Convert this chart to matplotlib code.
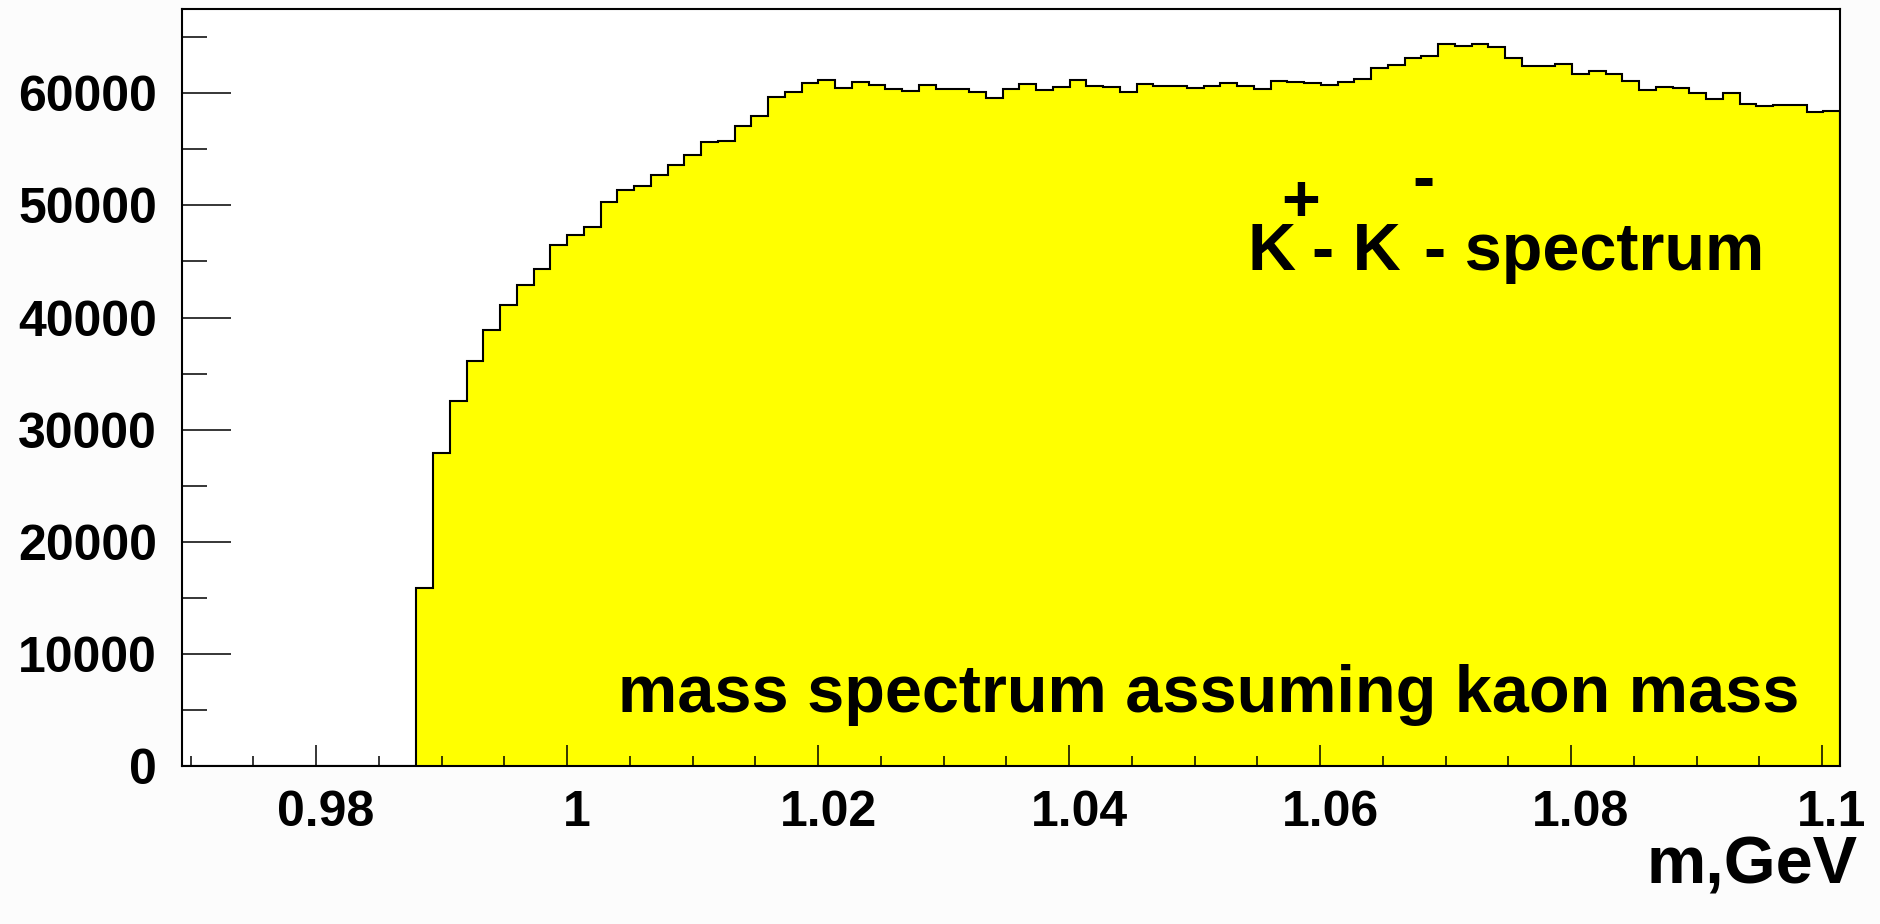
import matplotlib
matplotlib.use("Agg")
import matplotlib.pyplot as plt
import matplotlib.transforms as mtransforms
import numpy as np
from matplotlib.ticker import MultipleLocator

plt.rcParams['font.family'] = ['Liberation Sans', 'DejaVu Sans']
plt.rcParams['font.weight'] = 'bold'

# histogram range and binning (99 bins, first 14 empty below the K+K- threshold)
x_lo, x_hi = 0.96932, 1.10143
n_empty = 14
counts = [15850, 27890, 32560, 36130, 38890, 41150, 42880, 44360, 46470, 47370,
          48110, 50310, 51410, 51740, 52750, 53610, 54530, 55690, 55780, 57120,
          57980, 59700, 60120, 60900, 61190, 60500, 60980, 60740, 60420, 60240,
          60740, 60420, 60420, 60150, 59610, 60360, 60810, 60300, 60540, 61160,
          60660, 60540, 60150, 60810, 60690, 60690, 60450, 60630, 60920, 60630,
          60360, 61070, 61010, 60920, 60740, 61010, 61280, 62290, 62540, 63170,
          63290, 64360, 64240, 64400, 64100, 63170, 62480, 62480, 62630, 61740,
          61970, 61680, 61080, 60270, 60540, 60510, 60030, 59520, 60030, 59080,
          58900, 58990, 58990, 58310, 58400]
y_max = 67520

x_ticks = [0.98, 1.00, 1.02, 1.04, 1.06, 1.08, 1.10]
x_ticklabels = ['0.98', '1', '1.02', '1.04', '1.06', '1.08', '1.1']
y_ticks = [0, 10000, 20000, 30000, 40000, 50000, 60000]

W, H = 1881, 924
fig = plt.figure(figsize=(W / 100, H / 100), dpi=100, facecolor='#fcfcfc')
ax = fig.add_axes([182 / W, 1 - 766 / H, (1840 - 182) / W, (766 - 9) / H])
ax.set_facecolor('white')

values = np.array([0] * n_empty + counts, dtype=float)
edges = np.linspace(x_lo, x_hi, len(values) + 1)
ax.stairs(values, edges, fill=True, color='#ffff00', zorder=1)
ax.stairs(values, edges, color='black', lw=1.5, baseline=0, zorder=2)

ax.set_xlim(x_lo, x_hi)
ax.set_ylim(0, y_max)

ax.set_xticks(x_ticks)
ax.set_xticklabels(x_ticklabels)
ax.xaxis.set_minor_locator(MultipleLocator(0.005))
ax.set_yticks(y_ticks)
ax.yaxis.set_minor_locator(MultipleLocator(5000))

ax.tick_params(axis='both', which='both', direction='in', width=1.1,
               top=False, right=False, labelsize=36, zorder=3)
ax.tick_params(axis='y', which='major', length=35, pad=18)
ax.tick_params(axis='y', which='minor', length=18)
ax.tick_params(axis='x', which='major', length=15, pad=17)
ax.tick_params(axis='x', which='minor', length=7.5)

# ROOT puts the x labels a little right of their ticks
shift = mtransforms.ScaledTranslation(10 / 100, 0, fig.dpi_scale_trans)
for lab in ax.get_xticklabels():
    lab.set_fontweight('bold')
    lab.set_transform(lab.get_transform() + shift)
for lab in ax.get_yticklabels():
    lab.set_fontweight('bold')

for sp in ax.spines.values():
    sp.set_linewidth(1.5)
    sp.set_zorder(4)

# annotation texts (pixel positions converted to figure fractions)
def ftext(x, y, s, **kw):
    fig.text(x / W, 1 - y / H, s, fontsize=48, fontweight='bold', **kw)

ftext(1248, 270, 'K', ha='left', va='baseline')
ftext(1301, 221, '+', ha='center', va='baseline')
ftext(1312, 270, '- K', ha='left', va='baseline')
ftext(1423, 199, '-', ha='center', va='baseline')
ftext(1424, 270, '- spectrum', ha='left', va='baseline')

ftext(618, 712, 'mass spectrum assuming kaon mass', ha='left', va='baseline')
ftext(1858, 884, 'm,GeV', ha='right', va='baseline')

fig.savefig('out.png', dpi=100, facecolor=fig.get_facecolor())
